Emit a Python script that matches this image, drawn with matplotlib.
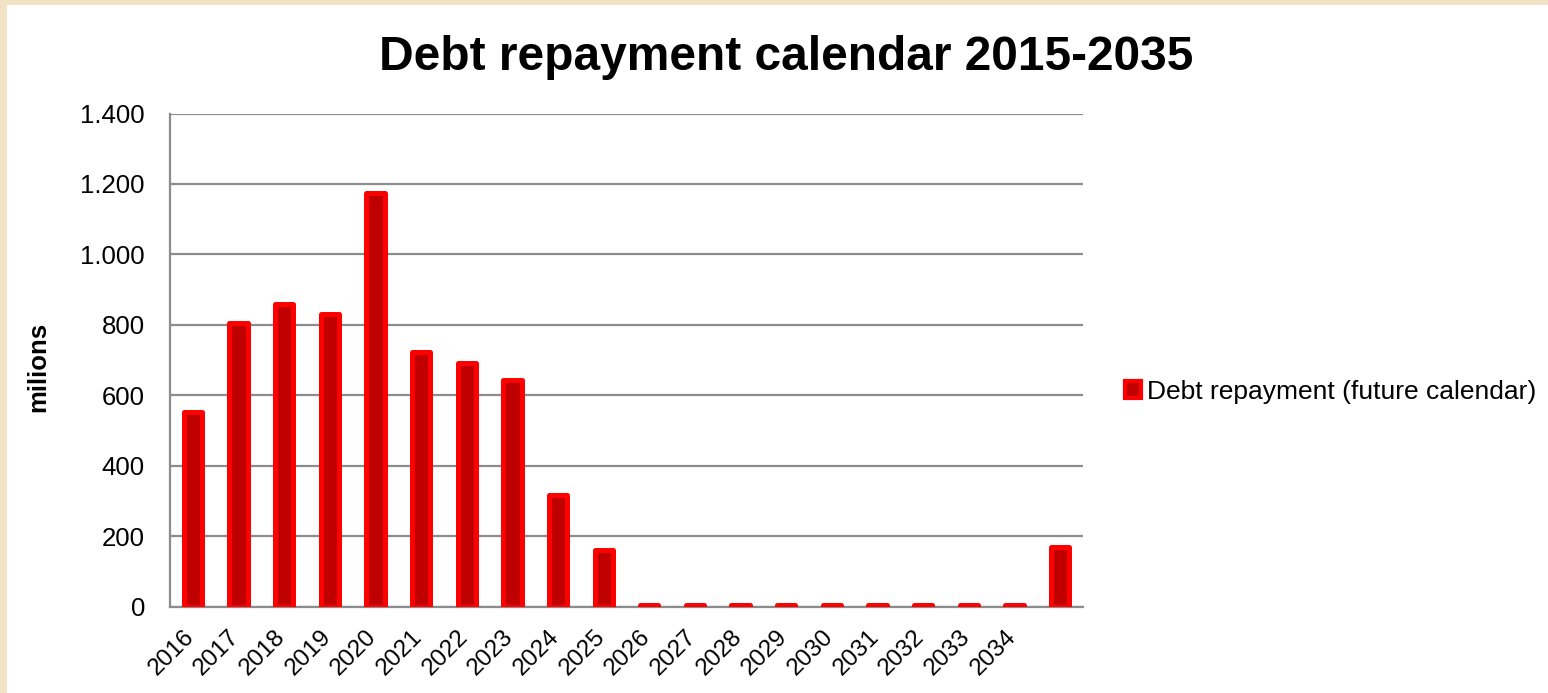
import matplotlib
matplotlib.use("Agg")
import matplotlib.pyplot as plt
from matplotlib.patches import Rectangle, Patch
from matplotlib.ticker import FuncFormatter
from matplotlib.transforms import ScaledTranslation

plt.rcParams['font.family'] = ['Liberation Sans', 'DejaVu Sans']

# Repayment calendar data (millions)
years = ["2016", "2017", "2018", "2019", "2020", "2021", "2022", "2023", "2024", "2025",
         "2026", "2027", "2028", "2029", "2030", "2031", "2032", "2033", "2034", ""]
repayment = [551, 804, 860, 831, 1174, 723, 692, 643, 316, 160,
             4, 4, 4, 4, 4, 4, 4, 4, 4, 169]
series_name = "Debt repayment (future calendar)"
title = "Debt repayment calendar 2015-2035"
y_ticks = [0, 200, 400, 600, 800, 1000, 1200, 1400]

W, H = 1548, 693
fig = plt.figure(figsize=(W / 100, H / 100), dpi=100)
fig.patch.set_facecolor("#F2E3C7")
# white chart card inside the beige frame
fig.add_artist(Rectangle((7 / W, 0), 1 - 7 / W, 1 - 5 / H, transform=fig.transFigure,
                         facecolor="white", edgecolor="none", zorder=0))

ax = fig.add_axes([170 / W, 1 - 606.5 / H, (1083 - 170) / W, (606.5 - 113.5) / H])
ax.set_facecolor("white")
ax.set_zorder(1)

x = list(range(len(years)))
ax.bar(x, repayment, width=0.4, color="#C00000", edgecolor="#FF0000",
       linewidth=3.6, joinstyle="round", zorder=3)

ax.set_xlim(-0.5, len(years) - 0.5)
ax.set_ylim(0, 1400)
ax.set_yticks(y_ticks)
ax.yaxis.set_major_formatter(FuncFormatter(lambda v, p: f"{int(v):,}".replace(",", ".")))
ax.grid(axis="y", color="#8C8C8C", linewidth=1.6, zorder=1)
ax.set_axisbelow(True)

for s in ["top", "right"]:
    ax.spines[s].set_visible(False)
for s in ["left", "bottom"]:
    ax.spines[s].set_color("#8C8C8C")
    ax.spines[s].set_linewidth(1.6)

ax.tick_params(axis="y", length=0, pad=18, labelsize=18.5)
ax.set_xticks(x)
ax.set_xticklabels(years, rotation=45, ha="right", rotation_mode="anchor", fontsize=17.5)
ax.tick_params(axis="x", length=0, pad=14)
shift = ScaledTranslation(-10 / 100, 0, fig.dpi_scale_trans)
for lbl in ax.get_xticklabels():
    lbl.set_transform(lbl.get_transform() + shift)

fig.text(786 / W, 1 - 58 / H, title, ha="center", va="center",
         fontsize=34.5, fontweight="bold")
fig.text(38 / W, 1 - 367 / H, "milions", rotation=90, ha="center", va="center",
         fontsize=18.5, fontweight="bold")

handle = Patch(facecolor="#C00000", edgecolor="#FF0000", linewidth=3.0, joinstyle="round")
fig.legend([handle], [series_name], loc="center left",
           bbox_to_anchor=(1125 / W, 1 - 392 / H), frameon=False, fontsize=19,
           handlelength=0.6, handleheight=0.6, handletextpad=0.25, borderpad=0,
           borderaxespad=0)

fig.savefig("out.png", dpi=100, facecolor=fig.get_facecolor())
